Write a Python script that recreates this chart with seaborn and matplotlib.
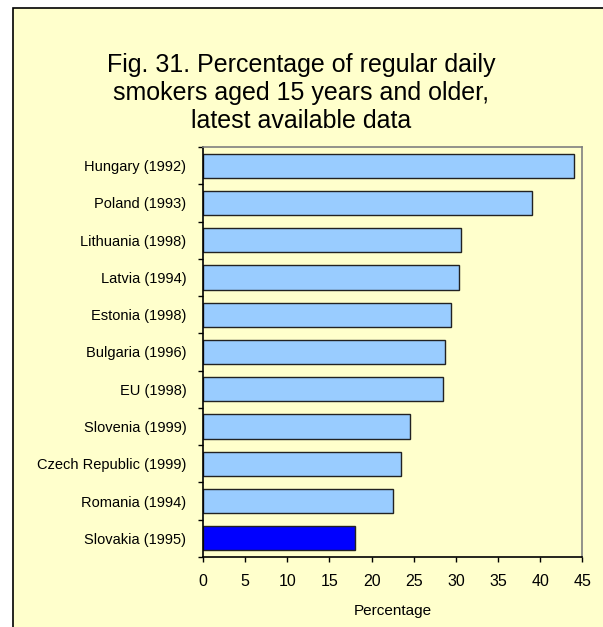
import matplotlib
matplotlib.use("Agg")
import matplotlib.pyplot as plt
from matplotlib.patches import Rectangle
from matplotlib.ticker import FixedLocator
import pandas as pd
import seaborn as sns

countries = ["Hungary (1992)", "Poland (1993)", "Lithuania (1998)", "Latvia (1994)",
             "Estonia (1998)", "Bulgaria (1996)", "EU (1998)", "Slovenia (1999)",
             "Czech Republic (1999)", "Romania (1994)", "Slovakia (1995)"]
smokers = [44.0, 39.0, 30.6, 30.4, 29.4, 28.7, 28.5, 24.5, 23.5, 22.5, 18.0]
bar_colors = ["#99CCFF"] * 10 + ["#0000FF"]
xticks = [0, 5, 10, 15, 20, 25, 30, 35, 40, 45]

df = pd.DataFrame({"country": countries, "pct": smokers})

sns.set_theme(style="white")
plt.rcParams["font.family"] = ["Liberation Sans", "DejaVu Sans"]
plt.rcParams["text.color"] = "black"

bg = "#FFFFCC"
fig = plt.figure(figsize=(6.03, 6.27), dpi=100, facecolor="white")
# yellow panel with black frame on the left/top (cut off at right/bottom)
fig.patches.append(Rectangle((13 / 603, -0.01), 1.0, 1 - 8 / 627 + 0.01,
                             transform=fig.transFigure, facecolor=bg,
                             edgecolor="black", lw=1.2, zorder=-5))

ax = fig.add_axes([203 / 603, 1 - 557 / 627, (582.3 - 203) / 603, (557 - 147) / 627])
ax.set_zorder(2)
ax.set_facecolor(bg)

sns.barplot(data=df, x="pct", y="country", hue="country", palette=bar_colors,
            order=countries, hue_order=countries, legend=False, dodge=False,
            width=0.65, edgecolor="#222222", linewidth=1.0, saturation=1, ax=ax)

ax.set_xlim(0, 45)
ax.set_ylim(len(countries) - 0.5, -0.5)
ax.set_xticks(xticks)
ax.yaxis.set_minor_locator(FixedLocator([i - 0.5 for i in range(len(countries) + 1)]))
ax.tick_params(axis="y", which="major", length=0, pad=12, labelsize=10.5, labelcolor="black")
ax.tick_params(axis="y", which="minor", left=True, length=3.6, width=1, color="black")
ax.tick_params(axis="x", bottom=True, length=3.6, width=1, color="black",
               labelsize=11.5, pad=8.5, labelcolor="black")
ax.set_ylabel("")
ax.set_xlabel("Percentage", fontsize=11, labelpad=11, color="black")

for s in ["left", "bottom"]:
    ax.spines[s].set_color("black")
    ax.spines[s].set_linewidth(1.2)
for s in ["top", "right"]:
    ax.spines[s].set_color("#808080")
    ax.spines[s].set_linewidth(1.2)

fig.text(301 / 603, 1 - 93 / 627,
         "Fig. 31. Percentage of regular daily\nsmokers aged 15 years and older,\nlatest available data",
         ha="center", va="center", fontsize=18, linespacing=1.2, color="black")

fig.savefig("out.png", dpi=100, facecolor=fig.get_facecolor())
